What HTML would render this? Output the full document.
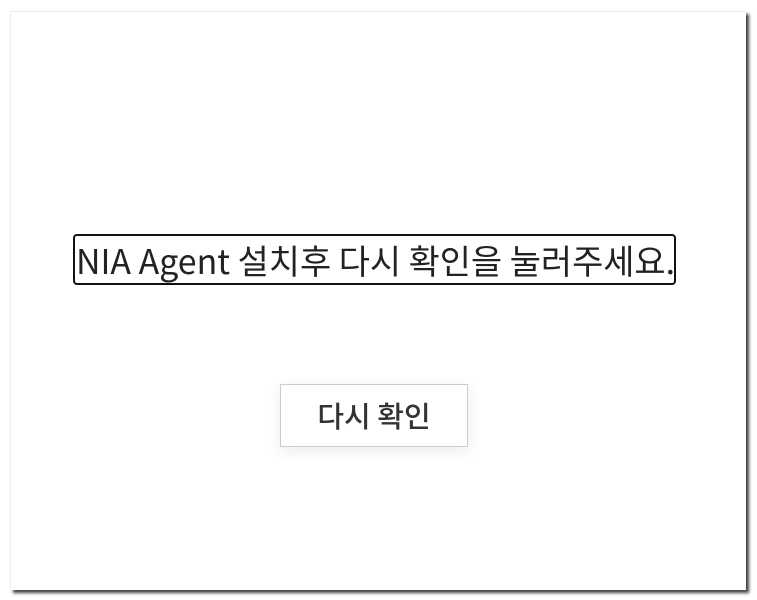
<!DOCTYPE html>
<html><head><meta charset="utf-8"><style>
html,body{margin:0;padding:0;background:#fff;width:757px;height:600px;overflow:hidden}
.panel{position:absolute;left:10px;top:11px;width:735px;height:578px;background:#fff;border-top:1px solid #eee;border-left:1px solid #eee;box-shadow:3px 3px 3px rgba(0,0,0,.75)}
.msg{position:absolute;left:73px;top:234px;width:599px;height:47px;border:2px solid #111;border-radius:4px;box-sizing:content-box;overflow:visible}
.msg span{position:absolute;left:1px;top:-1px;white-space:nowrap;font-family:"Noto Sans CJK KR",sans-serif;font-size:34px;line-height:50px;color:#222;transform-origin:0 0;display:inline-block}
.btn{position:absolute;left:280px;top:384px;width:186px;height:61px;border:1px solid #ccc;box-shadow:0 4px 14px rgba(0,0,0,.08);text-align:center;font-family:"Noto Sans CJK KR",sans-serif;font-weight:500;font-size:29px;line-height:61px;color:#333}
</style></head><body>
<div class="panel"></div>
<div class="msg"><span id="t">NIA Agent 설치후 다시 확인을 눌러주세요.</span></div>
<div class="btn">다시 확인</div>
<script>
var t=document.getElementById('t');var w=t.getBoundingClientRect().width;t.style.transform='scaleX('+(599/w)+')';
</script>
</body></html>
